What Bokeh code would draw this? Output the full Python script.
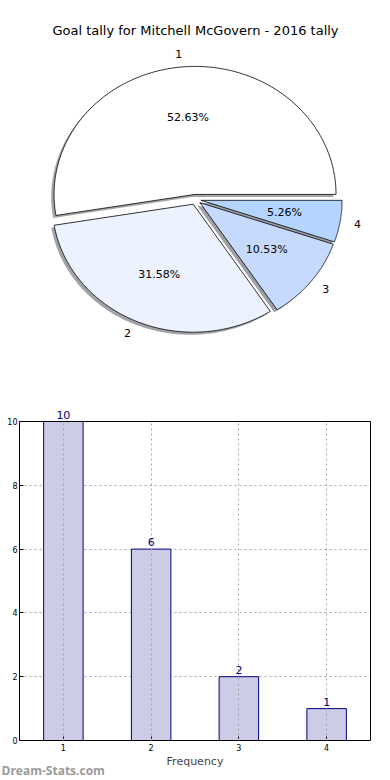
import numpy as np
from bokeh.plotting import figure
from bokeh.models import ColumnDataSource, LabelSet, Label, Grid
from bokeh.layouts import column
from bokeh.embed import file_html
from bokeh.resources import INLINE
from bokeh.core.properties import value, field

# ---------------- data ----------------
categories = ["1", "2", "3", "4"]
tally = [10, 6, 2, 1]
slice_colors = ["#ffffff", "#ecf2ff", "#c6d9ff", "#b4d5ff"]
title_text = "Goal tally for Mitchell McGovern - 2016 tally"
x_label = "Frequency"
watermark = "Dream-Stats.com"
y_ticks = [0, 2, 4, 6, 8, 10]

FONT = "DejaVu Sans"

# ---------------- pie ----------------
total = float(sum(tally))
fracs = np.array(tally) / total
pct_text = ["%.2f%%" % (f * 100) for f in fracs]
ends = np.cumsum(fracs) * 2 * np.pi
starts = ends - fracs * 2 * np.pi
mids = (starts + ends) / 2
explode = 0.04
shadow_off = 0.02
kx = 141.0 / 128.0      # the pie is a flattened ellipse (wider than tall)

W1, H1 = 390, 398
PX = 128.0              # pixels per data unit, same on both axes
p1 = figure(width=W1, height=H1,
            x_range=(-(W1 / 2) / PX, (W1 / 2) / PX),
            y_range=(-(H1 - 199) / PX, 199 / PX),
            toolbar_location=None, output_backend="svg",
            min_border=0, min_border_left=0, min_border_right=0,
            min_border_top=0, min_border_bottom=0,
            x_axis_location=None, y_axis_location=None)
p1.grid.visible = False
p1.outline_line_color = None

def hex_to_rgb(h):
    h = h.lstrip("#")
    return tuple(int(h[i:i + 2], 16) for i in (0, 2, 4))

xs, ys, sxs, sys_, shcols = [], [], [], [], []
lab_x, lab_y, lab_align, pct_x, pct_y = [], [], [], [], []
for s, e, m, c in zip(starts, ends, mids, slice_colors):
    cx, cy = explode * np.cos(m), explode * np.sin(m)
    t = np.linspace(s, e, 160)
    px = np.concatenate([[cx], cx + np.cos(t)]) * kx
    py = np.concatenate([[cy], cy + np.sin(t)])
    xs.append(list(px)); ys.append(list(py))
    sxs.append(list(px - shadow_off * kx)); sys_.append(list(py - shadow_off))
    r, g, b = hex_to_rgb(c)
    shcols.append("#%02x%02x%02x" % (int(r * 0.3), int(g * 0.3), int(b * 0.3)))
    lx, ly = cx + 1.1 * np.cos(m), cy + 1.1 * np.sin(m)
    lab_x.append(lx * kx); lab_y.append(ly)
    lab_align.append("left" if lx > 0 else "right")
    pct_x.append((cx + 0.6 * np.cos(m)) * kx); pct_y.append(cy + 0.6 * np.sin(m))

p1.patches(xs=sxs, ys=sys_, fill_color=shcols, fill_alpha=0.5, line_color=None)
p1.patches(xs=xs, ys=ys, fill_color=slice_colors, line_color="black", line_width=0.8)

lab_src = ColumnDataSource(dict(x=lab_x, y=lab_y, text=categories, align=lab_align))
p1.text(x="x", y="y", text="text", source=lab_src, text_align=field("align"),
        text_baseline="middle", text_font=value(FONT), text_font_size="11px",
        text_color="black")
pct_src = ColumnDataSource(dict(x=pct_x, y=pct_y, text=pct_text))
p1.text(x="x", y="y", text="text", source=pct_src, text_align="center",
        text_baseline="middle", text_font=value(FONT), text_font_size="11px",
        text_color="black")

p1.add_layout(Label(x=0, y=(199 - 30) / PX, text=title_text, text_align="center",
                    text_baseline="middle", text_font=FONT, text_font_size="13px",
                    text_color="black"))

# ---------------- bars ----------------
# The frame covers the whole figure; the axes sit at fixed data locations.
W2, H2 = 390, 382
BOX_L, BOX_R, BOX_T, BOX_B = 19, 370, 23, 342     # box edges in figure pixels
x_lo, x_hi, y_lo, y_hi = 0.5, 4.5, 0, 10
sx = (BOX_R - BOX_L) / (x_hi - x_lo)
sy = (BOX_B - BOX_T) / (y_hi - y_lo)
xr = (x_lo - BOX_L / sx, x_hi + (W2 - BOX_R) / sx)
yr = (y_lo - (H2 - BOX_B) / sy, y_hi + BOX_T / sy)

x_pos = [int(c) for c in categories]
p2 = figure(width=W2, height=H2, x_range=xr, y_range=yr,
            toolbar_location=None, output_backend="svg",
            min_border=0, min_border_left=0, min_border_right=0,
            min_border_top=0, min_border_bottom=0)
p2.outline_line_color = None

has_cb = "cross_bounds" in Grid.properties()
for g in (p2.xgrid[0], p2.ygrid[0]):
    g.grid_line_color = "#a8a8a8"
    g.grid_line_dash = "2 3"
    g.grid_line_width = 1
p2.xgrid[0].bounds = (x_lo, x_hi)
p2.ygrid[0].bounds = (y_lo, y_hi)
if has_cb:
    p2.xgrid[0].cross_bounds = (y_lo, y_hi)
    p2.ygrid[0].cross_bounds = (x_lo, x_hi)
else:
    p2.grid.visible = False
    p2.segment(x0=[x_lo] * len(y_ticks), y0=y_ticks, x1=[x_hi] * len(y_ticks), y1=y_ticks,
               line_color="#a8a8a8", line_dash="2 3", line_width=1)

p2.vbar(x=x_pos, top=tally, width=0.45, fill_color="#ccccE6", line_color="#000080",
        line_width=1)
if has_cb:
    p2.xgrid[0].level = "annotation"
else:
    p2.segment(x0=x_pos, y0=[y_lo] * 4, x1=x_pos, y1=[y_hi] * 4,
               line_color="#a8a8a8", line_dash="2 3", line_width=1)

# box edges (top and right) at the axis limits
p2.segment(x0=[x_lo, x_hi], y0=[y_hi, y_lo], x1=[x_hi, x_hi], y1=[y_hi, y_hi],
           line_color="black", line_width=1)

p2.xaxis.fixed_location = y_lo
p2.yaxis.fixed_location = x_lo
p2.xaxis.ticker = x_pos
p2.yaxis.ticker = y_ticks
p2.xaxis.bounds = (x_lo, x_hi)
p2.yaxis.bounds = (y_lo, y_hi)
for ax in (p2.xaxis, p2.yaxis):
    ax.major_label_text_font = FONT
    ax.major_label_text_font_size = "8px"
    ax.major_label_text_color = "black"
    ax.major_tick_in = 4
    ax.major_tick_out = 0
    ax.minor_tick_line_color = None
    ax.axis_line_color = "black"
    ax.major_tick_line_color = "black"
p2.yaxis.major_label_standoff = 2
p2.xaxis.major_label_standoff = 3
p2.xaxis.axis_label = x_label
p2.xaxis.axis_label_text_font = FONT
p2.xaxis.axis_label_text_font_size = "11px"
p2.xaxis.axis_label_text_font_style = "normal"
p2.xaxis.axis_label_standoff = 1

bar_src = ColumnDataSource(dict(x=x_pos, y=tally, text=[str(v) for v in tally]))
p2.add_layout(LabelSet(x="x", y="y", text="text", source=bar_src, y_offset=3,
                       text_align="center", text_baseline="bottom", text_font=value(FONT),
                       text_font_size="11px", text_color="#000080"))

# watermark at the bottom-left corner of the page
p2.add_layout(Label(x=x_lo + (1 - BOX_L) / sx, y=y_lo - (372 - BOX_B) / sy,
                    text=watermark, text_align="left", text_baseline="alphabetic",
                    text_font="Open Sans", text_font_size="12px",
                    text_font_style="bold", text_color="#9a9a9a"))

layout = column(p1, p2, spacing=0)
open("out.html", "w").write(file_html(layout, INLINE))
